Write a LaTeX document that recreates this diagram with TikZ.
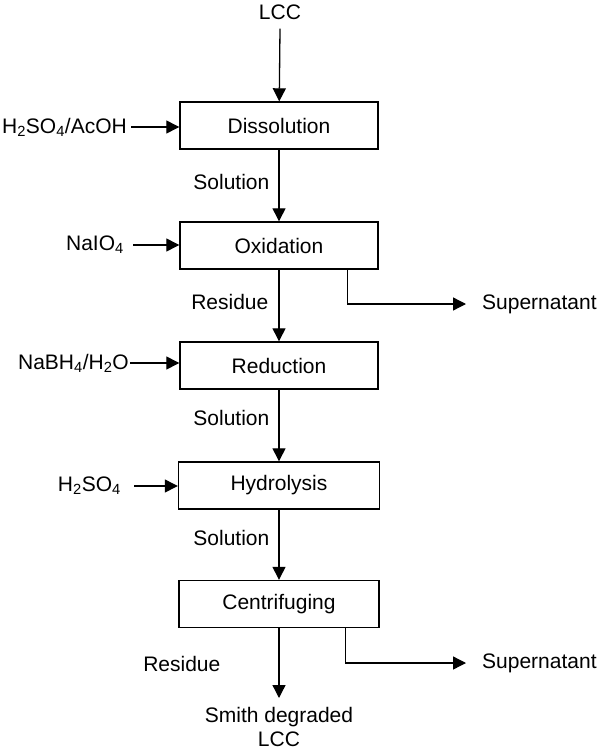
\documentclass[tikz,border=0pt]{standalone}
\usepackage{fontspec}
\setmainfont{Liberation Sans}
\usetikzlibrary{arrows.meta,positioning}
\tikzset{
  proc/.style={draw,line width=1.4pt,minimum width=198pt,minimum height=47pt,inner sep=0pt},
  txt/.style={inner sep=0pt},
  flow/.style={line width=1.3pt,-{Triangle[length=13pt,width=13pt]}},
}
\begin{document}
\begin{tikzpicture}[x=1pt,y=-1pt,font=\fontsize{21}{24}\selectfont]
        \useasboundingbox(0,0)rectangle(598,754);
        % process boxes
        \node[proc](dis)at(279,125.5){Dissolution};
        \node[proc](oxi)at(279,245.5){Oxidation};
        \node[proc](red)at(279,365.5){Reduction};
        \node[proc,minimum width=201pt](hyd)at(279,485.5){Hydrolysis};
        \node[proc,minimum width=200pt](cen)at(279,604){Centrifuging};
        % reagents and products
        \node[txt](lcc)at(280,12){LCC};
        \node[txt,anchor=east](acid)at(127,127){H\textsubscript{2}SO\textsubscript{4}/AcOH};
        \node[txt,anchor=east](per)at(124,245){NaIO\textsubscript{4}};
        \node[txt,anchor=east](bor)at(129,363){NaBH\textsubscript{4}/H\textsubscript{2}O};
        \node[txt,anchor=east](sulf)at(121,486){H\textsubscript{2}SO\textsubscript{4}};
        \node[txt,anchor=west](sup1)at(482,304){Supernatant};
        \node[txt,anchor=west](sup2)at(482,663){Supernatant};
        \node[txt,align=center,anchor=north](smith)at(279,707){Smith degraded\\LCC};
        % main line
        \draw[flow]([yshift=-9pt]lcc.south)--(dis);
        \draw[flow](dis)--node[txt,left=9pt,pos=.45]{Solution}(oxi);
        \draw[flow](oxi)--node[txt,left=10pt,pos=.45]{Residue}(red);
        \draw[flow](red)--node[txt,left=9pt,pos=.4]{Solution}(hyd);
        \draw[flow](hyd)--node[txt,left=9pt,pos=.4]{Solution}(cen);
        \draw[flow,shorten >=9pt](cen.south)--node[txt,left=58pt,pos=.45]{Residue}(cen.south|-smith.north);
        % side streams
        \draw[flow]([xshift=4pt]acid.east)--(acid.east-|dis.west);
        \draw[flow]([xshift=9pt]per.east)--(per.east-|oxi.west);
        \draw[flow]([xshift=1pt]bor.east)--(bor.east-|red.west);
        \draw[flow]([xshift=13pt]sulf.east)--(sulf.east-|hyd.west);
        \draw[flow]([xshift=-31pt]oxi.south east)|-([xshift=-16pt]sup1.west);
        \draw[flow]([xshift=-34pt]cen.south east)|-([xshift=-16pt]sup2.west);
\end{tikzpicture}
\end{document}
